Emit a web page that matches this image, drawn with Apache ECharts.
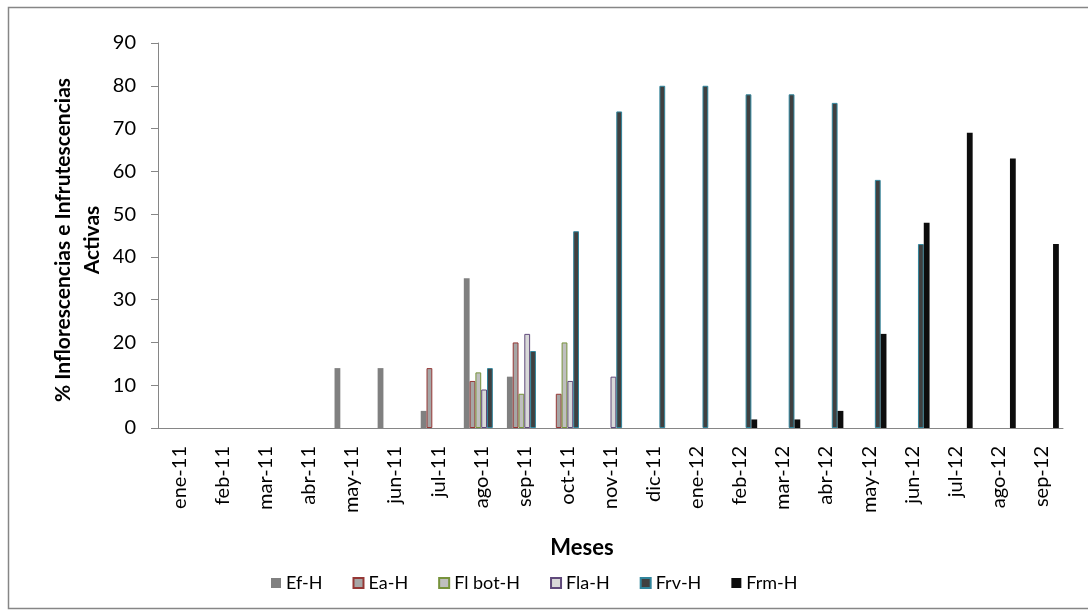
<!DOCTYPE html>
<html>
<head>
<meta charset="utf-8">
<script src="https://cdn.jsdelivr.net/npm/echarts@6/dist/echarts.min.js"></script>
<style>
  html, body { margin: 0; padding: 0; background: #fff; }
  #chart { width: 1088px; height: 611px; }
</style>
</head>
<body>
<div id="chart"></div>
<script>
// Monthly categories
const months = ['ene-11','feb-11','mar-11','abr-11','may-11','jun-11','jul-11','ago-11','sep-11','oct-11','nov-11','dic-11',
                'ene-12','feb-12','mar-12','abr-12','may-12','jun-12','jul-12','ago-12','sep-12'];

// Percentage of active inflorescences / infructescences per phase
const efH    = [0,0,0,0,14,14,4,35,12,0,0,0,0,0,0,0,0,0,0,0,0];
const eaH    = [0,0,0,0,0,0,14,11,20,8,0,0,0,0,0,0,0,0,0,0,0];
const flBotH = [0,0,0,0,0,0,0,13,8,20,0,0,0,0,0,0,0,0,0,0,0];
const flaH   = [0,0,0,0,0,0,0,9,22,11,12,0,0,0,0,0,0,0,0,0,0];
const frvH   = [0,0,0,0,0,0,0,14,18,46,74,80,80,78,78,76,58,43,0,0,0];
const frmH   = [0,0,0,0,0,0,0,0,0,0,0,0,0,2,2,4,22,48,69,63,43];

const yTicks = { min: 0, max: 90, interval: 10 };

const FONT = 'Lato, "Liberation Sans", sans-serif';
const chart = echarts.init(document.getElementById('chart'), null, { renderer: 'canvas' });

// zero months get no bar at all (so outlined series leave no stub on the axis)
function barSeries(name, data, fill, border) {
  return {
    name: name,
    type: 'bar',
    data: data.map(v => (v === 0 ? '-' : v)),
    barWidth: 5.8,
    barGap: '0%',
    itemStyle: border
      ? { color: fill, borderColor: border, borderWidth: 1 }
      : { color: fill },
    emphasis: { disabled: true }
  };
}

chart.setOption({
  animation: false,
  backgroundColor: '#ffffff',
  grid: { left: 158, right: 25, top: 43, bottom: 183, containLabel: false },
  xAxis: {
    type: 'category',
    data: months,
    axisLine: { lineStyle: { color: '#868686', width: 1 } },
    axisTick: { show: false },
    axisLabel: { rotate: 90, fontSize: 20, color: '#000', fontFamily: FONT, margin: 18 }
  },
  yAxis: {
    type: 'value',
    min: yTicks.min, max: yTicks.max, interval: yTicks.interval,
    axisLine: { show: true, lineStyle: { color: '#868686', width: 1 } },
    axisTick: { show: true, inside: false, length: 7, lineStyle: { color: '#868686' } },
    splitLine: { show: false },
    axisLabel: { fontSize: 20, color: '#000', fontFamily: FONT, margin: 22 }
  },
  legend: {
    bottom: 14,
    left: 266,
    itemWidth: 10,
    itemHeight: 10,
    itemGap: 30,
    icon: 'rect',
    textStyle: { fontSize: 18, color: '#000', fontFamily: FONT },
    data: ['Ef-H','Ea-H','Fl bot-H','Fla-H','Frv-H','Frm-H']
  },
  graphic: [
    {
      type: 'rect',
      shape: { x: 8.5, y: 7.5, width: 1100, height: 601 },
      style: { fill: 'none', stroke: '#868686', lineWidth: 1.5 },
      silent: true
    },
    {
      type: 'text',
      x: 582, y: 548,
      style: { text: 'Meses', font: 'bold 22px ' + FONT, fill: '#000', textAlign: 'center', textVerticalAlign: 'middle' }
    },
    {
      type: 'text',
      x: 78, y: 240,
      rotation: Math.PI / 2,
      style: {
        text: '% Inflorescencias e Infrutescencias\nActivas',
        font: 'bold 21px ' + FONT, fill: '#000', lineHeight: 29,
        textAlign: 'center', textVerticalAlign: 'middle'
      }
    }
  ],
  series: [
    barSeries('Ef-H', efH, '#808080', null),
    barSeries('Ea-H', eaH, '#a6a6a6', '#953735'),
    barSeries('Fl bot-H', flBotH, '#bfbfbf', '#77933c'),
    barSeries('Fla-H', flaH, '#d9d9d9', '#604a7b'),
    barSeries('Frv-H', frvH, '#404040', '#31859c'),
    barSeries('Frm-H', frmH, '#0d0d0d', null)
  ]
});
</script>
</body>
</html>
